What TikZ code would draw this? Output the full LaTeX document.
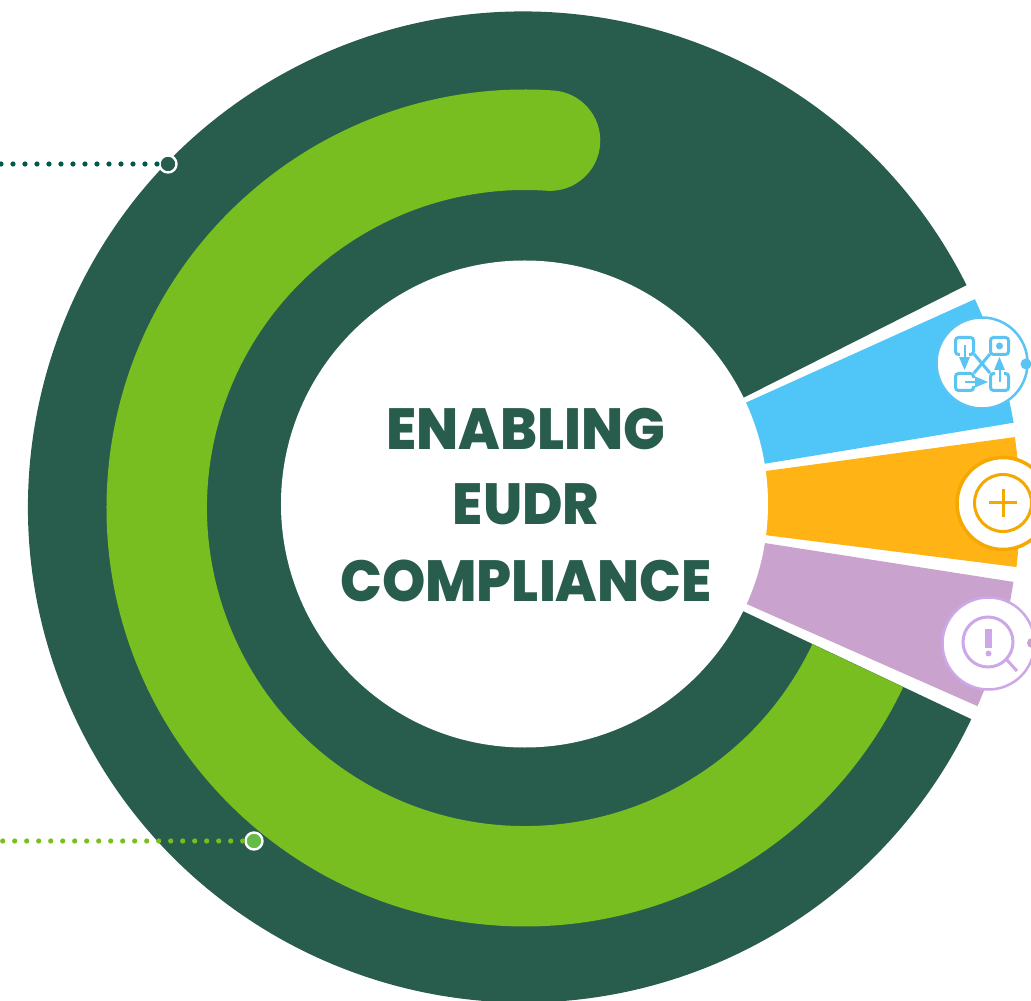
\documentclass[tikz,border=0pt]{standalone}
\usepackage{fontspec}
\setmainfont{Poppins}
\newfontfamily\titlefont{Poppins ExtraBold}[FakeStretch=0.95]
\usepackage{pgf,tikz}
\usetikzlibrary{arrows, math}

\definecolor{darkgreen}{HTML}{285C4D}
\definecolor{ringgreen}{HTML}{78BE20}
\definecolor{dotgreen}{HTML}{005A4B}
\definecolor{endgreen}{HTML}{64BC46}
\definecolor{skyblue}{HTML}{4FC6F7}
\definecolor{iconblue}{HTML}{5BC4F2}
\definecolor{amber}{HTML}{FFB314}
\definecolor{iconamber}{HTML}{F5A800}
\definecolor{mauve}{HTML}{C9A3CD}
\definecolor{iconmauve}{HTML}{CDA8E8}

\tikzset{
  title/.style={anchor=base, text=darkgreen, font=\titlefont\fontsize{58}{58}\selectfont},
  leader/.style={line width=5.2pt, line cap=round, dash pattern=on 0pt off 12pt},
  leaderend/.style={circle, draw=white, line width=2.4pt, inner sep=0pt, minimum size=17pt},
  icondisc/.style={circle, fill=white, inner sep=0pt, minimum size=#1},
  iconline/.style={line width=3pt, rounded corners=3pt},
}

\begin{document}
\begin{tikzpicture}[x=1pt, y=1pt, >=triangle 45]

\tikzmath{
        \rOut = 495.5; \rGo = 418.5; \rGi = 318;
        \aUp = 26.6; \aLow = 334.65; \aTip = 86.1;
        }

\useasboundingbox (-525,-493) rectangle (506,508);

% outer ring
\fill[darkgreen] (0,0) -- ([shift={(-1.5,1)}]\aUp:\rOut) arc[start angle=\aUp, end angle=\aLow, radius=\rOut] -- cycle;

% green ring
\fill[ringgreen] (\aTip:\rGo) arc[start angle=\aTip, end angle=\aLow, radius=\rGo]
  -- (\aLow:\rGi) arc[start angle=\aLow, end angle=\aTip, radius=\rGi]
  arc[start angle=\aTip+180, end angle=\aTip+360, radius=50.25] -- cycle;

% wedges
\fill[skyblue] (24.9:496) arc[start angle=24.9, end angle=9.9, radius=496] -- (214,40) -- (198,95) -- cycle;
\fill[amber] (8.24:495) arc[start angle=8.24, end angle=-6.85, radius=495] -- (216,-24) -- (216,33.6) -- cycle;
\fill[mauve] (-8.6:494) arc[start angle=-8.6, end angle=-23.65, radius=494] -- (199,-86) -- (214,-31) -- cycle;

% centre
\fill[white] (-0.5,4) circle (243.5);
\node[title] (enabling) at (1,58) {ENABLING};
\node[title] (eudr) at (1,-17) {EUDR};
\node[title] (compliance) at (1,-93) {COMPLIANCE};

% leaders
\coordinate (startdark) at (-524,344);
\node[leaderend, fill=darkgreen] (enddark) at (-357,344) {};
\draw[leader, dotgreen] (startdark) -- (enddark);
\coordinate (startgreen) at (-522.3,-333);
\node[leaderend, fill=endgreen] (endgreen) at (-271,-333) {};
\draw[leader, ringgreen] (startgreen) -- (endgreen);

% blue icon
\node[icondisc=91pt, draw=iconblue, line width=2.5pt] (bluedisc) at (457,145) {};
\fill[iconblue] (501,144) circle (5.5);
\draw[iconline, iconblue] (435,153.5) -- (430.5,153.5) -- (430.5,170.5) -- (448.5,170.5) -- (448.5,153.5) -- (444,153.5);
\draw[iconline, iconblue] (465.5,153.5) rectangle (483.5,170.5);
\fill[iconblue] (474.5,162) circle (3.5);
\draw[iconline, iconblue] (448.5,122) -- (448.5,117.5) -- (430.5,117.5) -- (430.5,134.5) -- (448.5,134.5) -- (448.5,130);
\draw[iconline, iconblue] (470,134.5) -- (465.5,134.5) -- (465.5,117.5) -- (483.5,117.5) -- (483.5,134.5) -- (479,134.5);
\draw[line width=2pt, iconblue, ->] (439.5,163) -- (439.5,138);
\draw[line width=2pt, iconblue, ->] (439.5,126) -- (463,126);
\draw[line width=2pt, iconblue, ->] (474.5,126) -- (474.5,151);
\draw[line width=3pt, iconblue] (449,154) -- (465,135) (449,135) -- (465,154);

% amber icon
\node[icondisc=92pt, draw=iconamber, line width=3.5pt] (amberdisc) at (478,4.5) {};
\draw[line width=3pt, iconamber] (478,5) circle (28.5);
\draw[line width=3pt, iconamber] (464,5) -- (492,5) (478,-9) -- (478,19);

% mauve icon
\node[icondisc=92pt, draw=iconmauve, line width=2.5pt] (mauvedisc) at (463.5,-135.5) {};
\fill[mauve] (507,-135) circle (5);
\draw[line width=3pt, iconmauve] (463,-134) circle (25);
\draw[line width=3pt, iconmauve] (482,-152) -- (492,-163);
\fill[iconmauve] (460,-121) rectangle (467,-140);
\fill[iconmauve] (463.5,-145.5) circle (3);

\end{tikzpicture}
\end{document}
